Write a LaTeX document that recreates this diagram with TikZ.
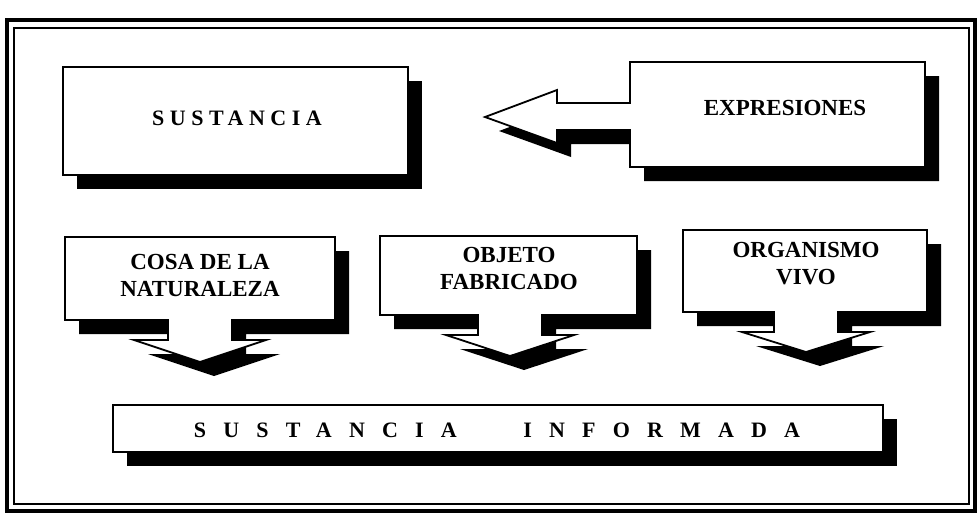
\documentclass[tikz,border=0pt]{standalone}
\usepackage{fontspec}
\setmainfont{Liberation Serif}
\newfontfamily\widefont[LetterSpace=25]{Liberation Serif}
\newfontfamily\widerfont[LetterSpace=78]{Liberation Serif}
\usetikzlibrary{shadows}

\begin{document}
\begin{tikzpicture}[
    x=0.5pt, y=-0.5pt,
    panel/.style={draw, fill=white, line width=0.9pt, line join=miter,
        drop shadow={shadow xshift=7pt, shadow yshift=-7pt, fill=black, opacity=1}},
    lbl/.style={font=\fontsize{11.5}{13.5}\selectfont\bfseries, align=center, inner sep=0pt},
    spaced/.style={font=\fontsize{11}{13}\selectfont\bfseries\widefont, inner sep=0pt},
    banner/.style={font=\fontsize{11}{13}\selectfont\bfseries\widerfont, inner sep=0pt}
]
\useasboundingbox (0,0) rectangle (979,516);

% Frame
\draw[line width=2pt] (7,20) rectangle (975,511);
\draw[line width=1pt] (14,28) rectangle (969,504);

% Top row
\node[panel, minimum width=172.5pt, minimum height=54pt] (sust) at (235.5,121) {};
\node[spaced] (sustlbl) at (237,118) {SUSTANCIA};

\draw[panel] (630,62) -- (925,62) -- (925,167) -- (630,167) -- (630,130) -- (557,130)
    -- (557,143) -- (485,117) -- (557,90) -- (557,103) -- (630,103) -- cycle;
\node[lbl] (expr) at (785,108) {EXPRESIONES};

% Down arrows
\draw[panel] (65,237) -- (335,237) -- (335,320) -- (232,320) -- (232,340) -- (266,340)
    -- (200,362) -- (134,340) -- (168,340) -- (168,320) -- (65,320) -- cycle;
\node[lbl] (cosa) at (200,275) {COSA DE LA\\NATURALEZA};

\draw[panel] (380,236) -- (637,236) -- (637,315) -- (542,315) -- (542,335) -- (574,335)
    -- (510,356) -- (446,335) -- (478,335) -- (478,315) -- (380,315) -- cycle;
\node[lbl] (objeto) at (509,268) {OBJETO\\FABRICADO};

\draw[panel] (683,230) -- (927,230) -- (927,312) -- (838,312) -- (838,332) -- (870,332)
    -- (806,352) -- (742,332) -- (774,332) -- (774,312) -- (683,312) -- cycle;
\node[lbl] (organismo) at (806,264) {ORGANISMO\\VIVO};

% Bottom banner
\node[panel, minimum width=385pt, minimum height=23.5pt] (inform) at (498,428.5) {};
\node[banner] (informlbl) at (497,430) {SUSTANCIA\hspace{22pt} INFORMADA};

\end{tikzpicture}
\end{document}
